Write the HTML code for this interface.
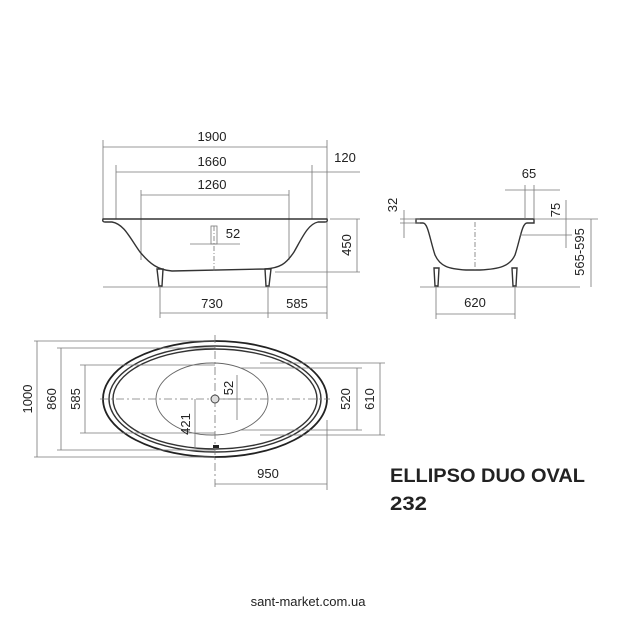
<!DOCTYPE html>
<html><head><meta charset="utf-8"><style>
html,body{margin:0;padding:0;background:#fff;width:620px;height:620px;overflow:hidden}
svg{display:block}
text{font-family:"Liberation Sans",sans-serif;fill:#222}
.d{stroke:#777;stroke-width:0.8;fill:none}
.o{stroke:#333;stroke-width:1.4;fill:none}
.t{font-size:13px}
</style></head><body>
<svg width="620" height="620" viewBox="0 0 620 620">
<!-- FRONT VIEW -->
<g>
<line class="d" x1="103" y1="140" x2="103" y2="219"/>
<line class="d" x1="327" y1="140" x2="327" y2="319"/>
<line class="d" x1="116" y1="165" x2="116" y2="219"/>
<line class="d" x1="312" y1="165" x2="312" y2="219"/>
<line class="d" x1="141" y1="190" x2="141" y2="260"/>
<line class="d" x1="289" y1="190" x2="289" y2="260"/>
<line class="d" x1="103" y1="147" x2="327" y2="147"/>
<line class="d" x1="116" y1="172" x2="360" y2="172"/>
<line class="d" x1="141" y1="195" x2="289" y2="195"/>
<text class="t" x="212" y="141" text-anchor="middle">1900</text>
<text class="t" x="212" y="166" text-anchor="middle">1660</text>
<text class="t" x="212" y="189" text-anchor="middle">1260</text>
<text class="t" x="345" y="162" text-anchor="middle">120</text>
<path class="o" d="M103 219 L327 219 Q328 222 325 222 L318 222 C308 224 302 238 294 252 C286 264 280 268 265 269 L172 271 C158 270 150 264 140 252 C130 238 124 224 112 222 L105 222 Q102 222 103 219 Z"/>
<line class="d" x1="103" y1="287" x2="327" y2="287"/>
<line class="d" x1="275" y1="272" x2="360" y2="272"/>
<line class="d" x1="330" y1="219" x2="360" y2="219"/>
<line class="d" x1="357" y1="219" x2="357" y2="272"/>
<text class="t" transform="translate(351,245) rotate(-90)" text-anchor="middle">450</text>
<path class="o" d="M157 269 L163 269 L162 286 L159 286 Z M265 269 L271 269 L269 286 L266 286 Z" fill="#888"/>
<line class="d" x1="160" y1="286" x2="160" y2="318"/>
<line class="d" x1="268" y1="286" x2="268" y2="318"/>
<line class="d" x1="160" y1="313" x2="327" y2="313"/>
<text class="t" x="212" y="308" text-anchor="middle">730</text>
<text class="t" x="297" y="308" text-anchor="middle">585</text>
<line class="d" x1="214" y1="226" x2="214" y2="272" stroke-dasharray="5,2,1,2"/>
<rect x="211" y="226" width="6" height="18" fill="none" stroke="#777" stroke-width="0.8"/>
<line class="d" x1="190" y1="244" x2="240" y2="244"/>
<text class="t" x="233" y="238" text-anchor="middle">52</text>
</g>
<!-- SIDE VIEW -->
<g>
<path class="o" d="M416 219 L534 219 L534 223 L527 223 C522 223 520 240 515 255 C510 266 500 269 480 270 L466 270 C448 269 440 266 435 255 C430 240 428 223 423 223 L416 223 Z"/>
<line class="d" x1="420" y1="287" x2="580" y2="287"/>
<line class="d" x1="475" y1="222" x2="475" y2="270" stroke-dasharray="5,2,1,2"/>
<path class="o" d="M434 268 L439 268 L438 286 L435 286 Z M512 268 L517 268 L516 286 L513 286 Z" fill="#888"/>
<line class="d" x1="436" y1="286" x2="436" y2="319"/>
<line class="d" x1="515" y1="286" x2="515" y2="319"/>
<line class="d" x1="436" y1="314" x2="515" y2="314"/>
<text class="t" x="475" y="307" text-anchor="middle">620</text>
<line class="d" x1="400" y1="219" x2="420" y2="219"/>
<line class="d" x1="400" y1="223" x2="420" y2="223"/>
<line class="d" x1="404" y1="210" x2="404" y2="238"/>
<text class="t" transform="translate(397,205) rotate(-90)" text-anchor="middle">32</text>
<line class="d" x1="505" y1="190" x2="560" y2="190"/>
<line class="d" x1="525" y1="185" x2="525" y2="219"/>
<line class="d" x1="534" y1="185" x2="534" y2="219"/>
<text class="t" x="529" y="178" text-anchor="middle">65</text>
<line class="d" x1="534" y1="219" x2="598" y2="219"/>
<line class="d" x1="520" y1="235" x2="572" y2="235"/>
<line class="d" x1="566" y1="200" x2="566" y2="248"/>
<text class="t" transform="translate(560,210) rotate(-90)" text-anchor="middle">75</text>
<line class="d" x1="591" y1="219" x2="591" y2="287"/>
<text class="t" transform="translate(584,252) rotate(-90)" text-anchor="middle">565-595</text>
</g>
<!-- PLAN VIEW -->
<g>
<ellipse cx="215" cy="399" rx="112" ry="58" fill="none" stroke="#222" stroke-width="1.8"/>
<ellipse cx="215" cy="399" rx="106" ry="53" class="o" stroke-width="1"/>
<ellipse cx="215" cy="399" rx="102" ry="50" class="o" stroke-width="1.2"/>
<ellipse cx="212" cy="399" rx="56" ry="36" fill="none" stroke="#666" stroke-width="0.9"/>
<line class="d" x1="100" y1="399" x2="330" y2="399" stroke-dasharray="8,3,2,3"/>
<line class="d" x1="215" y1="335" x2="215" y2="490" stroke-dasharray="8,3,2,3"/>
<circle cx="215" cy="399" r="4" fill="#ddd" stroke="#444"/>
<line class="d" x1="219" y1="399" x2="240" y2="399"/>
<line class="d" x1="237" y1="375" x2="237" y2="420"/>
<text class="t" transform="translate(233,388) rotate(-90)" text-anchor="middle">52</text>
<rect x="213" y="445" width="6" height="3" fill="#222"/>
<line class="d" x1="34" y1="341" x2="215" y2="341"/>
<line class="d" x1="34" y1="457" x2="215" y2="457"/>
<line class="d" x1="37" y1="341" x2="37" y2="457"/>
<text class="t" transform="translate(32,399) rotate(-90)" text-anchor="middle">1000</text>
<line class="d" x1="57" y1="348" x2="215" y2="348"/>
<line class="d" x1="57" y1="450" x2="215" y2="450"/>
<line class="d" x1="61" y1="348" x2="61" y2="450"/>
<text class="t" transform="translate(56,399) rotate(-90)" text-anchor="middle">860</text>
<line class="d" x1="80" y1="365" x2="215" y2="365"/>
<line class="d" x1="80" y1="433" x2="215" y2="433"/>
<line class="d" x1="85" y1="365" x2="85" y2="433"/>
<text class="t" transform="translate(80,399) rotate(-90)" text-anchor="middle">585</text>
<line class="d" x1="195" y1="399" x2="195" y2="448"/>
<text class="t" transform="translate(190,424) rotate(-90)" text-anchor="middle">421</text>
<line class="d" x1="240" y1="368" x2="362" y2="368"/>
<line class="d" x1="240" y1="430" x2="362" y2="430"/>
<line class="d" x1="357" y1="368" x2="357" y2="430"/>
<text class="t" transform="translate(350,399) rotate(-90)" text-anchor="middle">520</text>
<line class="d" x1="260" y1="363" x2="385" y2="363"/>
<line class="d" x1="260" y1="435" x2="385" y2="435"/>
<line class="d" x1="380" y1="363" x2="380" y2="435"/>
<text class="t" transform="translate(374,399) rotate(-90)" text-anchor="middle">610</text>
<line class="d" x1="327" y1="420" x2="327" y2="490"/>
<line class="d" x1="215" y1="484" x2="327" y2="484"/>
<text class="t" x="268" y="478" text-anchor="middle">950</text>
</g>
<text x="390" y="482" font-size="19" font-weight="bold" textLength="195" lengthAdjust="spacingAndGlyphs" fill="#111">ELLIPSO DUO OVAL</text>
<text x="390" y="510" font-size="19" font-weight="bold" textLength="37" lengthAdjust="spacingAndGlyphs" fill="#111">232</text>
<text x="308" y="606" font-size="13" text-anchor="middle" fill="#555">sant-market.com.ua</text>
</svg>
</body></html>
